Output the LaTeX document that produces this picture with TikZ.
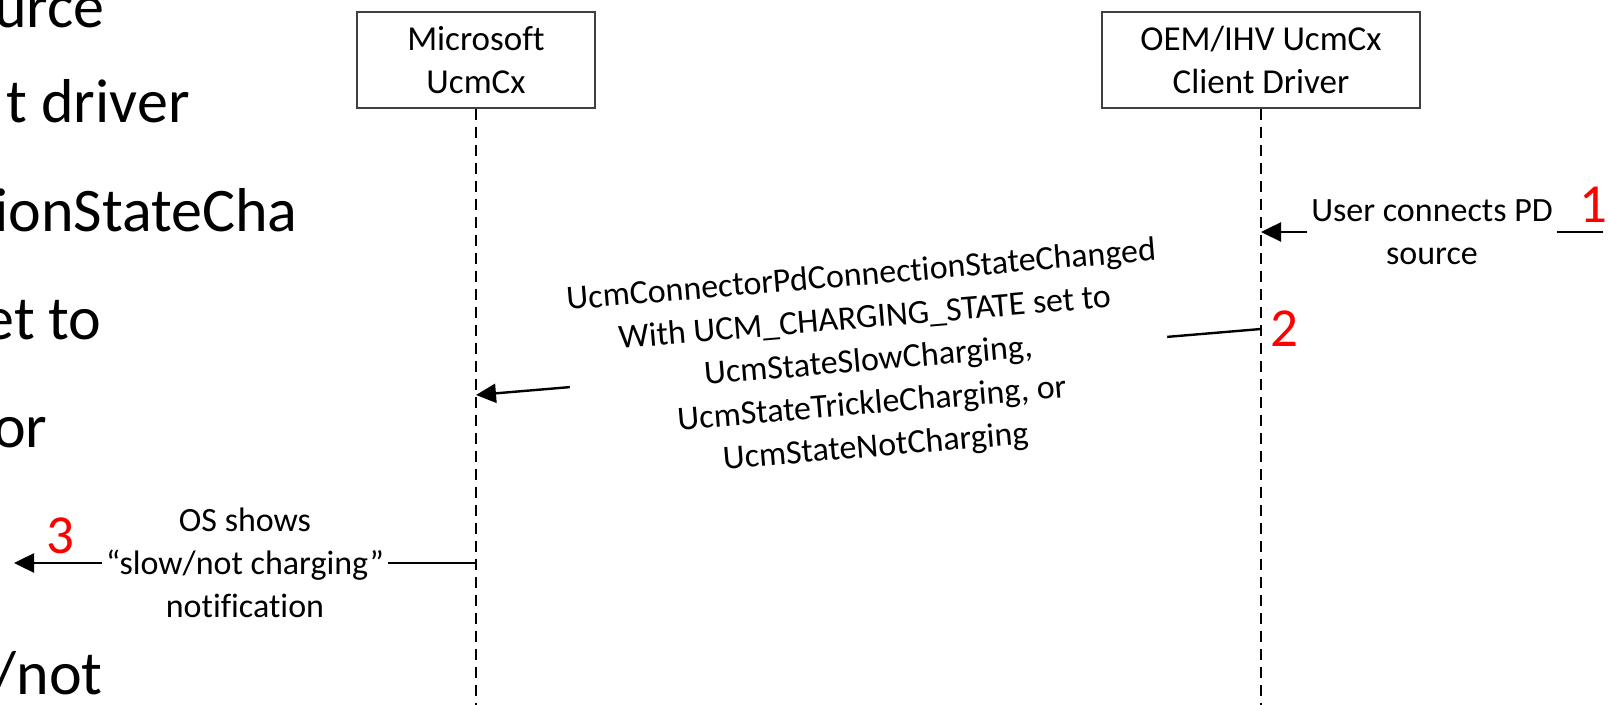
\documentclass[tikz,border=0pt]{standalone}
\usepackage{fontspec}
\setmainfont{Carlito}[Ligatures={TeX,NoCommon}]
\usetikzlibrary{arrows.meta}
\begin{document}
\begin{tikzpicture}[x=0.5pt,y=-0.5pt,
    >={Triangle[length=10pt,width=9.5pt]},
    actor/.style={draw=black!75,line width=0.8pt,fill=white,minimum width=#1,
      minimum height=48pt,align=center,inner sep=0pt,font=\fontsize{17.5}{21.5}\selectfont},
    life/.style={line width=1.2pt,dash pattern=on 5.5pt off 3.5pt},
    msg/.style={line width=1.2pt},
    lbl/.style={fill=white,align=center,inner sep=2pt,font=\fontsize{17}{21.5}\selectfont},
    num/.style={text=red,anchor=base,inner sep=0pt,font=\fontsize{27.5}{30}\selectfont},
    bg/.style={anchor=base east,inner sep=0pt,font=\fontsize{31}{36}\selectfont}]
  \useasboundingbox (0,0) rectangle (1608,705);
  \clip (0,0) rectangle (1608,705);
  \node[bg] (b1) at (105,28) {urce};
  \node[bg] (b2) at (190,123) {t driver};
  \node[bg] (b3) at (298,232) {ionStateCha};
  \node[bg] (b4) at (102,340) {et to};
  \node[bg] (b5) at (48,448) {or};
  \node[bg] (b6) at (103,695) {/not};
  \node[actor=119pt] (ms) at (476,60) {Microsoft\\UcmCx};
  \node[actor=159pt] (oem) at (1261,60) {OEM/IHV UcmCx\\Client Driver};
  \coordinate (msend) at (476,705);
  \coordinate (oemend) at (1261,705);
  \draw[life] (ms.south) -- (msend);
  \draw[life] (oem.south) -- (oemend);
  \coordinate (user) at (1603,232);
  \coordinate (oem1) at (1261,232);
  \coordinate (oem2) at (1261,329);
  \coordinate (ms2) at (476,395);
  \coordinate (ms3) at (476,563);
  \coordinate (os) at (14,563);
  \draw[msg,->] (user) -- node[lbl] {User connects PD\\source} (oem1);
  \draw[msg,->] (oem2) -- node[lbl,sloped] {UcmConnectorPdConnectionStateChanged\\With UCM\_CHARGING\_STATE set to\\UcmStateSlowCharging,\\UcmStateTrickleCharging, or\\UcmStateNotCharging} (ms2);
  \draw[msg,->] (ms3) -- node[lbl] {OS shows\\“slow/not charging”\\notification} (os);
  \node[num] (n1) at (1593,223) {1};
  \node[num] (n2) at (1284,347) {2};
  \node[num] (n3) at (60,554) {3};
\end{tikzpicture}
\end{document}
